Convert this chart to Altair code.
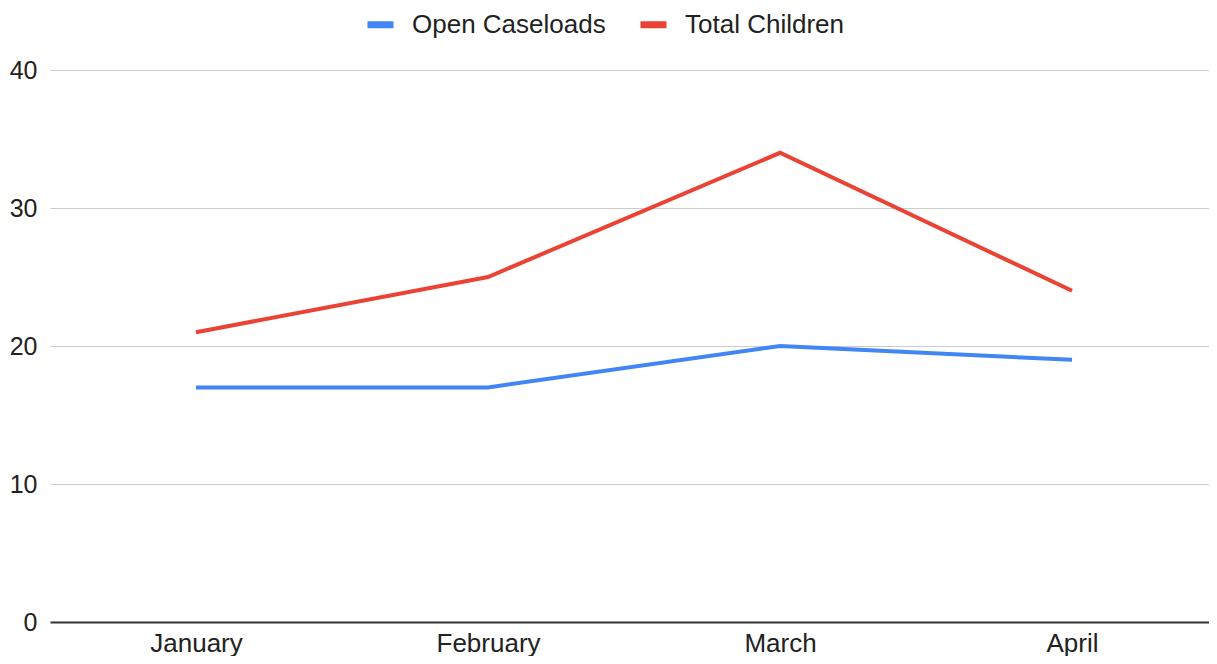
import altair as alt
import pandas as pd

months = ["January", "February", "March", "April"]
open_caseloads = [17, 17, 20, 19]
total_children = [21, 25, 34, 24]
series_names = ["Open Caseloads", "Total Children"]
series_colors = ["#4285F4", "#EA4335"]

rows = []
for m, v in zip(months, open_caseloads):
    rows.append({"month": m, "value": v, "series": series_names[0]})
for m, v in zip(months, total_children):
    rows.append({"month": m, "value": v, "series": series_names[1]})
df = pd.DataFrame(rows)

FONT = "Liberation Sans"
FS = 26

chart = alt.Chart(df).mark_line(strokeWidth=4).encode(
    x=alt.X("month:N", sort=months, title=None,
            scale=alt.Scale(type="point", padding=0.4846, align=0.516),
            axis=alt.Axis(labelAngle=0, ticks=False, grid=False, domain=True,
                          domainColor="#333333", domainWidth=2,
                          labelPadding=8, labelFontSize=FS, labelColor="#222222",
                          labelFont=FONT)),
    y=alt.Y("value:Q", title=None,
            scale=alt.Scale(domain=[0, 40], nice=False),
            axis=alt.Axis(values=[0, 10, 20, 30, 40], ticks=False, domain=False,
                          grid=True, gridColor="#cccccc", gridWidth=1,
                          labelPadding=13, labelFontSize=25, labelColor="#222222",
                          labelFont=FONT)),
    color=alt.Color("series:N", title=None,
                    scale=alt.Scale(domain=series_names, range=series_colors),
                    legend=alt.Legend(orient="none", direction="horizontal",
                                      legendX=314, legendY=-62, padding=0,
                                      symbolType="stroke", symbolSize=676,
                                      symbolStrokeWidth=7, labelOffset=15,
                                      columnPadding=20, labelFontSize=FS,
                                      labelColor="#222222", labelFont=FONT,
                                      labelLimit=400)),
).properties(
    width=1159, height=552,
    padding={"left": 42, "top": 62, "right": 0, "bottom": 34},
    autosize=alt.AutoSizeParams(type="none"),
).configure_view(stroke=None)

chart.save("out.html", embed_options={"renderer": "svg", "actions": False})
